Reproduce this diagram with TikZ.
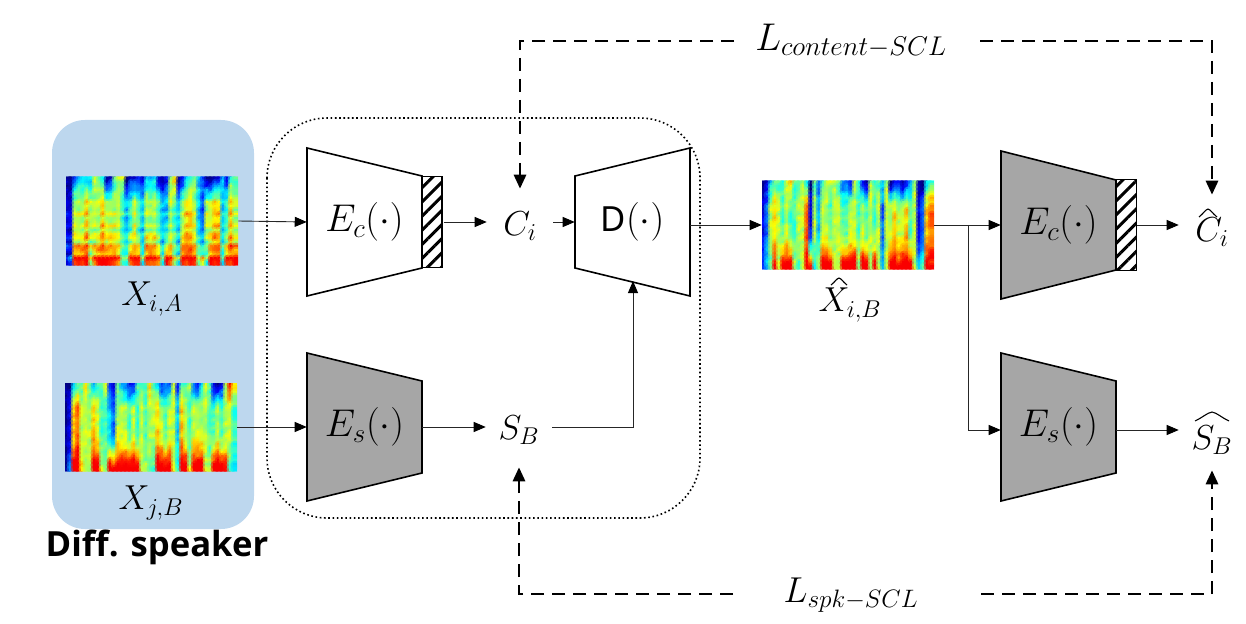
\documentclass[tikz,border=0pt]{standalone}
\usepackage{fix-cm}
\usepackage{fontspec}
\setsansfont{Noto Sans}
\newfontfamily\boldlabel{Open Sans}
\usetikzlibrary{arrows.meta,patterns.meta}

\def\px{0.75pt}
\tikzset{
    thinarrow/.style={draw=black!85, line width=0.9*\px, -{Triangle[length=12*\px, width=10*\px, black]}},
    lossarrow/.style={draw=black, line width=2.8*\px, dash pattern=on 13*\px off 8*\px, -{Triangle[length=14*\px, width=12*\px, black]}},
    whitetrap/.style={draw=black, fill=white, line width=1.6*\px},
    graytrap/.style={draw=black, fill=trapgray, line width=1.6*\px},
    hatchbox/.style={draw=black, line width=1.6*\px, minimum width=20*\px, minimum height=91*\px, inner sep=0pt,
        pattern={Lines[angle=45, distance=10*\px, line width=3*\px]}},
    specbox/.style={minimum width=172*\px, minimum height=88*\px, inner sep=0pt},
    trapbox/.style={minimum width=115*\px, minimum height=148*\px, inner sep=0pt, font=\fontsize{29}{32}\selectfont},
    symbol/.style={minimum width=66*\px, minimum height=74*\px, inner sep=0pt},
    mathtext/.style={font=\fontsize{26}{30}\selectfont, inner sep=0pt},
    hatline/.style={draw=black, line width=1.1*\px},
}
\definecolor{trapgray}{HTML}{A6A6A6}
\definecolor{speakerblue}{HTML}{BDD7EE}

% one cell per 4x4 px, columns given as top/middle/bottom level (0-9)
\newcommand{\specgram}[4]{
    \begin{scope}
    \clip (#1,#2) rectangle ++(172,88);
    \foreach \vt/\vm/\vb [count=\c from 0] in {#4} {
        \foreach \r in {0,...,21} {
            \pgfmathsetmacro\rr{\r/21}
            \pgfmathsetmacro\low{max(0,(\rr-0.5)/0.5)}
            \pgfmathsetmacro\base{\vt+(\vm-\vt)*min(\rr,0.3)/0.3+(\vb-\vm)*\low*\low}
            \pgfmathsetmacro\val{max(0,min(0.88,\base/9+0.12*rnd-0.06+#3*sin(\r*130)*\rr))}
            \pgfmathsetmacro\cr{max(0,min(1,1.5-abs(4*\val-3)))}
            \pgfmathsetmacro\cg{max(0,min(1,1.5-abs(4*\val-2)))}
            \pgfmathsetmacro\cb{max(0,min(1,1.5-abs(4*\val-1)))}
            \definecolor{cell}{rgb}{\cr,\cg,\cb}
            \fill[cell] ({#1+4*\c},{#2+4*\r}) rectangle ++(4.2,4.2);
            \fill[cell, opacity=0.55] ({#1+4*\c+2},{#2+4*\r+2}) circle (4.5);
        }
    }
    \end{scope}
}
% trapezoid with insets on the left and the right side
\newcommand{\trapezoid}[7]{
    \draw[#4] ({#2-57.5},{#3-74+#5}) -- ({#2+57.5},{#3-74+#6}) -- ({#2+57.5},{#3+74-#6}) -- ({#2-57.5},{#3+74-#5}) -- cycle;
    \node (#1) [trapbox] at (#2,#3) {#7};
}
% curved hat above a symbol: node, x offset, y offset, half width, height
\newcommand{\hatarc}[5]{
    \draw[hatline] ([shift={(#2-#4,#3)}]#1.center) .. controls +(0.5*#4,-0.45*#5) and +(-0.3*#4,0.1*#5) .. ++(#4,-#5)
        .. controls +(0.3*#4,0.1*#5) and +(-0.5*#4,-0.45*#5) .. ++(#4,#5);
}

\begin{document}
\begin{tikzpicture}[x=0.75pt, y=-0.75pt]
    \useasboundingbox (0,0) rectangle (1246,624);
    \pgfmathsetseed{11}

    \fill[speakerblue, rounded corners=33*\px] (52,120) rectangle (254,529);
    \draw[line width=1.6*\px, dotted, rounded corners=60*\px] (267,118) rectangle (700,518);

    \specgram{66}{177}{0.11}{
        0/1/1, 0/1/2, 2/5/8, 3/5/8, 3/5/8, 3/6/8, 3/5/5, 5/5/7, 4/5/8, 3/6/8, 0/5/8, 1/5/8, 4/5/8, 5/5/7, 5/4/4,
        0/3/4, 1/4/8, 1/5/8, 1/4/8, 1/3/4, 3/5/8, 3/5/8, 3/5/8, 1/4/7, 0/3/4, 1/3/8, 5/5/7, 6/4/5, 0/3/4, 1/5/8,
        3/6/8, 4/6/8, 4/5/8, 3/3/5, 2/2/6, 0/5/4, 0/5/8, 1/6/8, 1/6/8, 3/3/4, 1/4/8, 4/6/8, 4/5/8}
    \specgram{65}{383}{0}{
        0/0/0, 0/1/2, 3/6/9, 4/7/9, 4/5/6, 6/5/5, 4/5/5, 3/6/9, 4/5/9, 4/4/5, 5/4/5, 1/3/9, 1/2/8, 4/5/9, 3/5/9,
        2/5/9, 1/4/9, 1/5/9, 4/4/9, 4/5/5, 4/4/5, 6/5/4, 4/5/4, 3/6/9, 1/5/9, 2/4/9, 2/5/9, 5/5/5, 1/3/4, 4/6/9,
        4/5/9, 5/4/5, 2/5/9, 1/5/9, 3/5/9, 5/5/5, 4/4/5, 1/4/9, 0/5/9, 1/4/9, 5/5/8, 8/5/4, 6/4/3}
    \specgram{762}{181}{0}{
        0/1/2, 1/2/3, 3/5/4, 4/6/8, 4/5/5, 4/4/9, 5/5/9, 6/4/9, 4/4/5, 4/5/4, 5/5/5, 3/7/9, 0/1/8, 4/5/3, 2/3/5,
        4/5/9, 5/5/9, 5/4/9, 5/5/5, 4/5/5, 2/4/9, 2/4/9, 1/5/9, 5/5/9, 4/4/5, 1/5/9, 0/4/9, 5/5/5, 4/4/9, 4/5/5,
        3/2/3, 5/5/5, 0/5/9, 1/6/9, 1/5/8, 0/5/9, 1/6/9, 3/4/9, 5/5/5, 0/1/3, 0/2/4, 3/6/8, 4/7/8}
    \node (xia) [specbox] at (152,221) {};
    \node (xjb) [specbox] at (151,427) {};
    \node (xib) [specbox] at (848,225) {};

    \trapezoid{ec}{364.5}{222}{whitetrap}{0}{28}{$E_c(\cdot)$}
    \trapezoid{es}{364.5}{427}{graytrap}{0}{28}{$E_s(\cdot)$}
    \trapezoid{dec}{632.5}{222}{whitetrap}{28}{0}{\textsf{\fontsize{26}{30}\selectfont D}$(\cdot)$}
    \trapezoid{ecb}{1058.5}{225}{graytrap}{0}{29}{$E_c(\cdot)$}
    \trapezoid{esb}{1058.5}{427}{graytrap}{0}{28}{$E_s(\cdot)$}
    \node (hatcha) [hatchbox] at (432,222) {};
    \node (hatchb) [hatchbox] at (1126.5,225) {};

    \node (ci) [symbol, mathtext] at (520,226) {$C_i$};
    \node (sb) [symbol, mathtext] at (519,430) {$S_B$};
    \node (cihat) [symbol, mathtext] at (1212,232) {$C_i$};
    \node (sbhat) [symbol, mathtext, minimum height=60*\px] at (1212,440) {$S_B$};

    \node (lxia) [mathtext] at (152,299) {$X_{i,A}$};
    \node (lxjb) [mathtext] at (151,503) {$X_{j,B}$};
    \node (lxib) [mathtext] at (850,305) {$X_{i,B}$};
    \node (lcontent) [mathtext, font=\fontsize{29}{32}\selectfont] at (851,41) {$L_{content-SCL}$};
    \node (lspk) [mathtext, font=\fontsize{27}{30}\selectfont] at (851,595) {$L_{spk-SCL}$};
    \node (diff) [font=\boldlabel\bfseries\fontsize{26}{30}\selectfont, inner sep=0pt] at (157,547) {Diff. speaker};

    \hatarc{cihat}{-4}{-15}{9}{8}
    \hatarc{sbhat}{0}{-19}{17}{9}
    \hatarc{lxib}{-11}{-20}{8}{7}

    \coordinate (decin) at (633,281);
    \coordinate (branch) at (968,225);

    \draw[thinarrow] (xia.east) -- (ec.west);
    \draw[thinarrow] (hatcha.east) -- (hatcha.east -| ci.west);
    \draw[thinarrow] (ci.east |- hatcha.east) -- (dec.west);
    \draw[thinarrow] (dec.east |- xib.west) -- (xib.west);
    \draw[thinarrow] (xib.east) -- (ecb.west);
    \draw[thinarrow] (hatchb.east) -- (hatchb.east -| cihat.west);
    \draw[thinarrow] (xjb.east) -- (es.west);
    \draw[thinarrow] (es.east) -- (es.east -| sb.west);
    \draw[thinarrow] (es.east -| sb.east) -| (decin);
    \draw[thinarrow] (branch) |- ([yshift=-3*\px]esb.west);
    \draw[thinarrow] ([yshift=-3*\px]esb.east) -- ([yshift=-3*\px]esb.east -| sbhat.west);

    \draw[lossarrow] (734,41) -| (ci.north);
    \draw[lossarrow] (980,41) -| (cihat.north);
    \draw[lossarrow] (733,594) -| (sb.south);
    \draw[lossarrow] (981,594) -| (sbhat.south);
\end{tikzpicture}
\end{document}
